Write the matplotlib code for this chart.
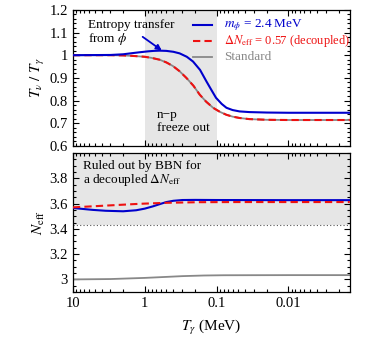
import numpy as np
import matplotlib
matplotlib.use('Agg')
import matplotlib.pyplot as plt
from matplotlib.ticker import MultipleLocator, LogLocator, NullFormatter, FixedLocator, FixedFormatter

plt.rcParams['font.family'] = ['Liberation Serif', 'DejaVu Serif']
plt.rcParams['mathtext.fontset'] = 'stix'
plt.rcParams['font.size'] = 10

# Photon temperature (MeV) and T_nu/T_gamma
T_phi = [10, 3, 2, 1.5, 1.17, 0.9, 0.75, 0.62, 0.5, 0.4, 0.327, 0.26, 0.213,
         0.17, 0.139, 0.12, 0.102, 0.085, 0.073, 0.06, 0.048, 0.035, 0.02,
         0.01, 0.0014]
ratio_phi = [1.0, 1.001, 1.004, 1.009, 1.013, 1.017, 1.019, 1.02, 1.019, 1.015,
             1.008, 0.993, 0.972, 0.935, 0.885, 0.85, 0.812, 0.785, 0.768,
             0.758, 0.752, 0.749, 0.747, 0.746, 0.746]
T_dec = [10, 3, 2, 1.5, 1, 0.8, 0.62, 0.5, 0.405, 0.33, 0.264, 0.21, 0.172,
         0.14, 0.112, 0.09, 0.073, 0.06, 0.048, 0.035, 0.02, 0.01, 0.0014]
ratio_dec = [1.0, 1.0, 0.999, 0.997, 0.993, 0.988, 0.98, 0.968, 0.952, 0.93,
             0.9, 0.865, 0.826, 0.795, 0.768, 0.75, 0.737, 0.729, 0.723, 0.718,
             0.715, 0.714, 0.714]
ratio_std = ratio_dec

# N_eff vs photon temperature
T_nphi = [10, 5.3, 3.5, 2.0, 1.32, 1.0, 0.77, 0.6, 0.5, 0.4, 0.3, 0.2, 0.1, 0.01, 0.0014]
neff_phi = [3.565, 3.55, 3.543, 3.539, 3.547, 3.56, 3.578, 3.598, 3.612, 3.622,
            3.628, 3.629, 3.628, 3.627, 3.627]
T_ndec = [10, 3.45, 1.19, 0.5, 0.174, 0.05, 0.01, 0.0014]
neff_dec = [3.57, 3.584, 3.598, 3.606, 3.611, 3.612, 3.612, 3.612]
T_nstd = [10, 3, 1, 0.5, 0.3, 0.15, 0.08, 0.01, 0.0014]
neff_std = [3.0, 3.003, 3.012, 3.02, 3.026, 3.031, 3.033, 3.034, 3.034]

bbn_limit = 3.43
xticks = [10, 1, 0.1, 0.01]
xticklabels = ['10', '1', '0.1', '0.01']

blue = '#0000cc'
red = '#ee1111'
gray = '#888888'
dash = (0, (3.5, 2))

fig = plt.figure(figsize=(3.9, 3.4), dpi=100)
ax1 = fig.add_axes([0.187, 0.571, 0.710, 0.400])
ax2 = fig.add_axes([0.187, 0.141, 0.710, 0.409])

for ax in (ax1, ax2):
    ax.set_xscale('log')
    ax.set_xlim(10, 0.0014)
    ax.xaxis.set_major_locator(FixedLocator(xticks))
    ax.xaxis.set_minor_locator(LogLocator(base=10, subs=np.arange(2, 10)))
    ax.xaxis.set_minor_formatter(NullFormatter())
    ax.tick_params(which='both', direction='in', top=True, right=True, width=0.8)
    ax.tick_params(which='major', length=4, labelsize=10.5)
    ax.tick_params(which='minor', length=2)
    for s in ax.spines.values():
        s.set_linewidth(0.9)

# top panel
ax1.axvspan(1, 0.1, color='#e6e6e6', lw=0, zorder=0)
ax1.plot(T_dec, ratio_std, color=gray, lw=1.3, zorder=2)
ax1.plot(T_dec, ratio_dec, color=red, lw=1.5, ls=dash, zorder=3)
ax1.plot(T_phi, ratio_phi, color=blue, lw=1.5, zorder=4)
ax1.set_ylim(0.6, 1.2)
ax1.yaxis.set_major_locator(FixedLocator([0.6, 0.7, 0.8, 0.9, 1.0, 1.1, 1.2]))
ax1.yaxis.set_major_formatter(FixedFormatter(['0.6', '0.7', '0.8', '0.9', '1', '1.1', '1.2']))
ax1.yaxis.set_minor_locator(MultipleLocator(0.02))
ax1.set_xticklabels([])
ax1.set_ylabel(r'$T_\nu\ /\ T_\gamma$', fontsize=11, labelpad=2)

ax1.text(6.2, 1.099, 'Entropy transfer\nfrom $\\phi$', fontsize=9.5, va='center',
         linespacing=1.0)
ax1.annotate('', xy=(0.58, 1.021), xytext=(1.07, 1.081),
             arrowprops=dict(arrowstyle='-|>', color=blue, lw=1.3,
                             mutation_scale=8, shrinkA=0, shrinkB=0))
ax1.text(0.68, 0.709, 'n\u2212p\nfreeze out', fontsize=9.5, va='center',
         linespacing=1.1)

# legend drawn by hand, like the reference
ax1.plot([0.215, 0.117], [1.134, 1.134], color=blue, lw=1.5)
ax1.plot([0.215, 0.117], [1.061, 1.061], color=red, lw=1.5, ls=dash)
ax1.plot([0.215, 0.117], [0.994, 0.994], color=gray, lw=1.3)
ax1.text(0.078, 1.134, r'$m_\phi$ = 2.4 MeV', color=blue, fontsize=9.5, va='center')
ax1.text(0.078, 1.061, r'$\Delta N_{\rm eff}$ = 0.57 (decoupled)', color=red,
         fontsize=9, va='center')
ax1.text(0.078, 0.994, 'Standard', color=gray, fontsize=9.5, va='center')

# bottom panel
ax2.axhspan(bbn_limit, 4.0, color='#e6e6e6', lw=0, zorder=0)
ax2.axhline(bbn_limit, color='#555555', lw=0.8, ls=(0, (1, 2)), zorder=1)
ax2.plot(T_nstd, neff_std, color=gray, lw=1.3, zorder=2)
ax2.plot(T_nphi, neff_phi, color=blue, lw=1.5, zorder=3)
ax2.plot(T_ndec, neff_dec, color=red, lw=1.5, ls=dash, zorder=4)
ax2.set_ylim(2.9, 4.0)
ax2.yaxis.set_major_locator(FixedLocator([3.0, 3.2, 3.4, 3.6, 3.8]))
ax2.yaxis.set_major_formatter(FixedFormatter(['3', '3.2', '3.4', '3.6', '3.8']))
ax2.yaxis.set_minor_locator(MultipleLocator(0.05))
ax2.set_xticklabels(xticklabels)
ax2.set_ylabel(r'$N_{\rm eff}$', fontsize=11, labelpad=2)
ax2.set_xlabel(r'$T_\gamma$ (MeV)', fontsize=11, labelpad=6)
ax2.text(7.3, 3.83, 'Ruled out by BBN for\na decoupled $\\Delta N_{\\rm eff}$',
         fontsize=9.5, va='center', linespacing=1.0)

fig.savefig('out.png', dpi=100)
